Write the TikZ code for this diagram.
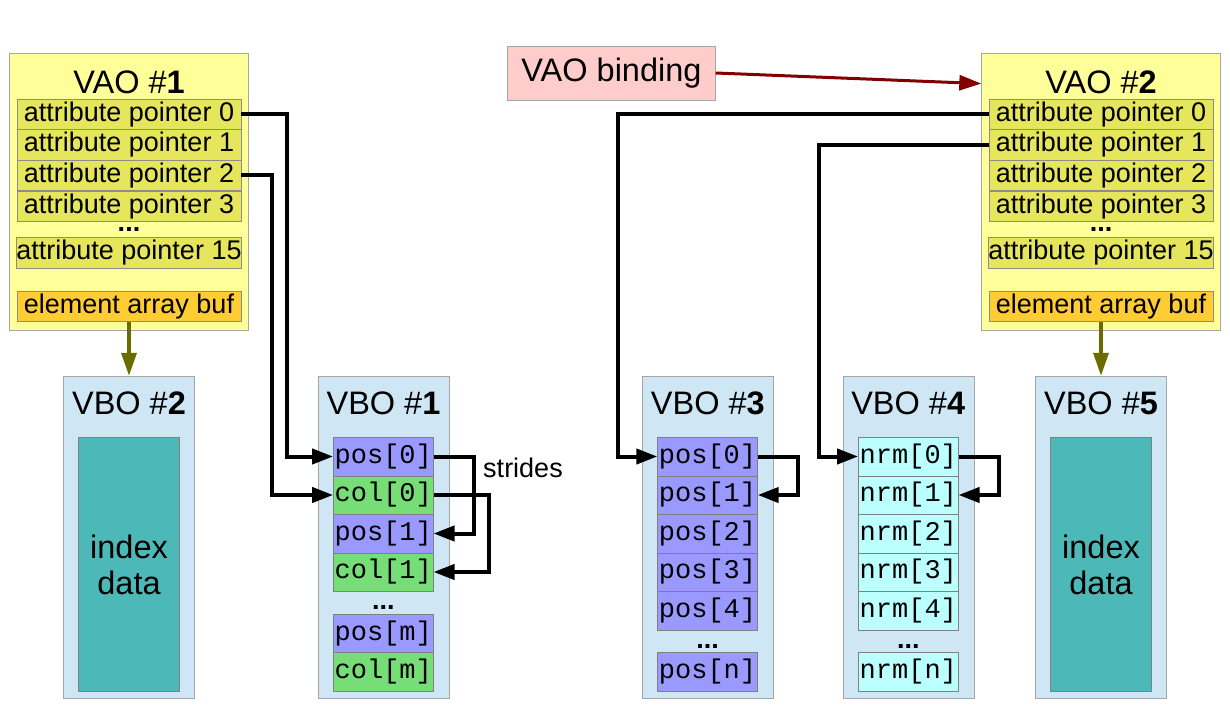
\documentclass[tikz,border=0pt]{standalone}
\usepackage{fontspec}
\setmainfont{Liberation Sans}
\setmonofont{Liberation Mono}
\usetikzlibrary{arrows.meta, positioning}

\definecolor{vaoyellow}{HTML}{FFFF99}
\definecolor{ptrolive}{HTML}{E6E65C}
\definecolor{ebuforange}{HTML}{FFCC33}
\definecolor{vboblue}{HTML}{CFE7F5}
\definecolor{idxteal}{HTML}{4DB8B8}
\definecolor{pospurple}{HTML}{9999FF}
\definecolor{colgreen}{HTML}{77DD77}
\definecolor{nrmcyan}{HTML}{BBFFFF}
\definecolor{bindpink}{HTML}{FFCCCC}
\definecolor{bindred}{HTML}{800000}
\definecolor{ebufolive}{HTML}{6B6B00}

\newcommand{\bigtext}{\fontsize{32.5}{36}\selectfont}
\newcommand{\midtext}{\fontsize{27}{32}\selectfont}

\begin{document}
\begin{tikzpicture}[
        x=1pt, y=-1pt,
        every node/.style={inner sep=0pt, font=\midtext},
        vaobox/.style={draw=gray!70, fill=vaoyellow, minimum width=239pt, minimum height=277pt},
        ptrrow/.style={draw=gray!90, fill=ptrolive, minimum width=224pt, minimum height=30.5pt},
        ebufrow/.style={ptrrow, fill=ebuforange},
        vbobox/.style={draw=gray!70, fill=vboblue, minimum width=131pt, minimum height=322pt},
        idxbox/.style={draw=gray, fill=idxteal, minimum width=101pt, minimum height=254pt, align=center, font=\bigtext},
        cell/.style={draw=gray, minimum width=100pt, minimum height=38.5pt, font=\midtext\ttfamily},
        poscell/.style={cell, fill=pospurple},
        colcell/.style={cell, fill=colgreen},
        nrmcell/.style={cell, fill=nrmcyan},
        title/.style={font=\bigtext},
        dots/.style={font=\midtext\bfseries},
        link/.style={line width=4pt, -{Triangle[length=21pt,width=15pt]}},
        bindlink/.style={draw=bindred, line width=3pt, -{Triangle[length=22pt,width=15pt]}},
        ebuflink/.style={draw=ebufolive, line width=3.5pt, -{Triangle[length=23pt,width=15pt]}}
    ]
    \fill[white] (0,0) rectangle (1230,706);
    \useasboundingbox (0,0) rectangle (1230,706);

    % VAOs
    \foreach \v/\cx in {1/129, 2/1101} {
        \node[vaobox] (vao\v) at (\cx,191.3) {};
        \node[title] (vao\v-title) at (\cx,82) {VAO \#\textbf{\v}};
        \node[dots] (vao\v-dots) at (\cx,229) {...};
        \foreach \i/\cy in {0/114.3, 1/144.5, 2/175.3, 3/206.3, 15/252.8}
            \node[ptrrow] (ptr\v-\i) at (\cx,\cy) {attribute pointer \i};
        \node[ebufrow] (ebuf\v) at (\cx,306.2) {element array buf};
    }

    % binding
    \node[draw=gray!70, fill=bindpink, minimum width=208pt, minimum height=54pt, font=\bigtext] (bind) at (611.5,73) {VAO binding};

    % index buffers
    \foreach \b/\cx in {2/129, 5/1101} {
        \node[vbobox] (vbo\b) at (\cx,537) {};
        \node[title] (vbo\b-title) at (\cx,403) {VBO \#\textbf{\b}};
        \node[idxbox] (idx\b) at (\cx,564.5) {index\\data};
    }

    % VBO #1 (interleaved)
    \node[vbobox] (vbo1) at (383.5,537) {};
    \node[title] (vbo1-title) at (383.5,403) {VBO \#\textbf{1}};
    \foreach \i/\cy in {0/456.5, 1/533.5}
        \node[poscell] (pos1-\i) at (383.3,\cy) {pos[\i]};
    \foreach \i/\cy in {0/495, 1/572}
        \node[colcell] (col1-\i) at (383.3,\cy) {col[\i]};
    \node[dots] (vbo1-dots) at (383.3,607) {...};
    \node[poscell] (pos1-m) at (383.3,633.5) {pos[m]};
    \node[colcell] (col1-m) at (383.3,671.9) {col[m]};
    \node (strides) at (523,468) {strides};

    % VBO #3 and #4
    \node[vbobox] (vbo3) at (707.8,537) {};
    \node[title] (vbo3-title) at (707.8,403) {VBO \#\textbf{3}};
    \node[vbobox] (vbo4) at (908.2,537) {};
    \node[title] (vbo4-title) at (908.2,403) {VBO \#\textbf{4}};
    \foreach \i in {0,...,4} {
        \node[poscell] (pos3-\i) at (707.5,{456.5+38.5*\i}) {pos[\i]};
        \node[nrmcell] (nrm4-\i) at (908.3,{456.5+38.5*\i}) {nrm[\i]};
    }
    \node[dots] (vbo3-dots) at (707.5,646) {...};
    \node[dots] (vbo4-dots) at (908.3,646) {...};
    \node[poscell] (pos3-n) at (707.5,671.9) {pos[n]};
    \node[nrmcell] (nrm4-n) at (908.3,671.9) {nrm[n]};

    % Arrows
    \draw[bindlink] (bind.east) -- ([yshift=-31pt]vao2.north west);
    \draw[ebuflink] (ebuf1.south) -- (vbo2.north);
    \draw[ebuflink] (ebuf2.south) -- (vbo5.north);

    \draw[link] (ptr1-0.east) -| ([xshift=-46pt]pos1-0.west) -- (pos1-0.west);
    \draw[link] (ptr1-2.east) -| ([xshift=-61pt]col1-0.west) -- (col1-0.west);
    \draw[link] (ptr2-0.west) -| ([xshift=-39pt]pos3-0.west) -- (pos3-0.west);
    \draw[link] (ptr2-1.west) -| ([xshift=-39pt]nrm4-0.west) -- (nrm4-0.west);

    % strides
    \draw[link] (pos1-0.east) -- ++(40,0) |- (pos1-1.east);
    \draw[link] (col1-0.east) -- ++(55,0) |- (col1-1.east);
    \draw[link] (pos3-0.east) -- ++(40,0) |- (pos3-1.east);
    \draw[link] (nrm4-0.east) -- ++(40,0) |- (nrm4-1.east);
\end{tikzpicture}
\end{document}
